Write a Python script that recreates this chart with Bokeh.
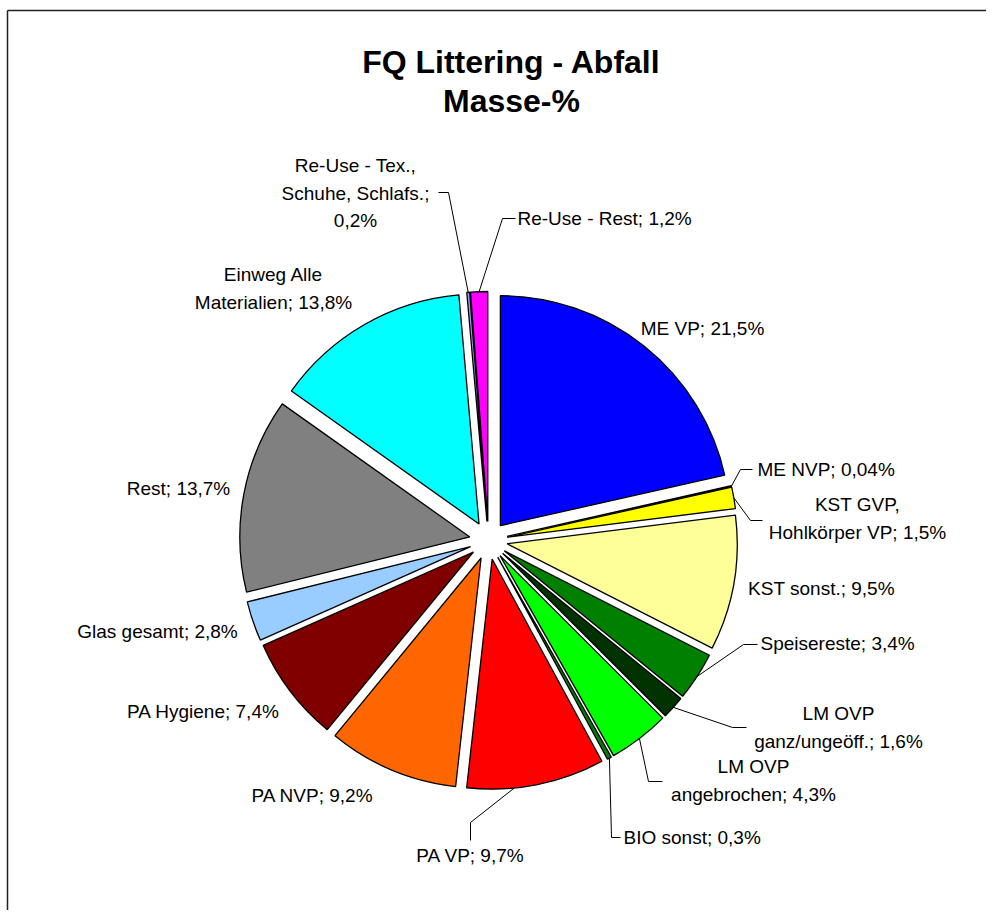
import math
from bokeh.plotting import figure
from bokeh.models import Range1d
from bokeh.core.properties import value
from bokeh.embed import file_html
from bokeh.resources import INLINE

# ---------------- data ----------------
categories = [
    "ME VP", "ME NVP", "KST GVP,\nHohlkörper VP", "KST sonst.", "Speisereste",
    "LM OVP\nganz/ungeöff.", "LM OVP\nangebrochen", "BIO sonst", "PA VP", "PA NVP",
    "PA Hygiene", "Glas gesamt", "Rest", "Einweg Alle\nMaterialien",
    "Re-Use - Tex.,\nSchuhe, Schlafs.", "Re-Use - Rest",
]
values = [21.5, 0.04, 1.5, 9.5, 3.4, 1.6, 4.3, 0.3, 9.7, 9.2, 7.4, 2.8, 13.7, 13.8, 0.2, 1.2]
colors = [
    "#0000FF", "#000080", "#FFFF00", "#FFFF99", "#008000", "#003300", "#00FF00", "#008000",
    "#FF0000", "#FF6600", "#800000", "#99CCFF", "#808080", "#00FFFF", "#9999FF", "#FF00FF",
]
title_lines = ["FQ Littering - Abfall", "Masse-%"]

# ---------------- layout (screenshot pixel coordinates) ----------------
W, H = 986, 910
def X(px):
    return px
def Y(py):
    return H - py

CX, CY = 488, 540      # pie centre
R = 230                # radius
EXPLODE = 19           # explosion offset
LINE_H = 27.5

label_layout = [
    dict(x=702, y=328, align="center", leader=None),
    dict(x=757, y=469, align="left", leader=[(740, 469), (752, 469)]),
    dict(x=857, y=504, align="center", leader=[(750, 520), (762, 520)]),
    dict(x=821, y=588, align="center", leader=None),
    dict(x=760, y=643, align="left", leader=[(743, 644), (757, 644)]),
    dict(x=838, y=713, align="center", leader=[(732, 727), (746, 727)]),
    dict(x=753, y=766, align="center", leader=[(648, 781), (662, 781)]),
    dict(x=623, y=837, align="left", leader=[(611, 837), (620, 837)]),
    dict(x=470, y=855, align="center", leader=[(470, 822), (470, 840)], frac=0.66),
    dict(x=312, y=795, align="center", leader=None),
    dict(x=203, y=711, align="center", leader=None),
    dict(x=157, y=631, align="center", leader=None),
    dict(x=178, y=488, align="center", leader=None),
    dict(x=273, y=274, align="center", leader=None),
    dict(x=355, y=165, align="center", leader=[(448, 192), (438, 192)], own_line=True),
    dict(x=517, y=218, align="left", leader=[(502, 218), (515, 218)]),
]

FONT = value("Liberation Sans")

p = figure(width=W, height=H, x_range=Range1d(0, W), y_range=Range1d(0, H),
           output_backend="svg", toolbar_location=None, min_border=0)
p.axis.visible = False
p.grid.visible = False
p.outline_line_color = None
p.background_fill_color = "white"

# frame lines (top and left) of the chart area
p.line([X(7), X(1000)], [Y(10), Y(10)], line_color="#222222", line_width=1.5)
p.line([X(7), X(7)], [Y(10), Y(1000)], line_color="#222222", line_width=1.5)

total = sum(values)
cum = 0.0
wx, wy, sa, ea, fc = [], [], [], [], []
anchors = []
for i, v in enumerate(values):
    c0 = cum / total
    c1 = (cum + v) / total
    cum += v
    mid = (c0 + c1) / 2
    ang = 2 * math.pi * mid
    ox = CX + EXPLODE * math.sin(ang)
    oy = CY - EXPLODE * math.cos(ang)
    wx.append(X(ox)); wy.append(Y(oy))
    sa.append(math.pi / 2 - 2 * math.pi * c1)
    ea.append(math.pi / 2 - 2 * math.pi * c0)
    fc.append(colors[i])
    frac = label_layout[i].get("frac", 0.5)
    aa = 2 * math.pi * (c0 + (c1 - c0) * frac)
    anchors.append((ox + R * math.sin(aa), oy - R * math.cos(aa)))

p.wedge(x=wx, y=wy, radius=R, start_angle=sa, end_angle=ea, direction="anticlock",
        fill_color=fc, line_color="black", line_width=1.3)

for i, lay in enumerate(label_layout):
    if lay["leader"]:
        pts = [anchors[i]] + lay["leader"]
        p.line([X(a) for a, b in pts], [Y(b) for a, b in pts], line_color="black", line_width=1)

for i, lay in enumerate(label_layout):
    val = str(values[i]).replace(".", ",") + "%"
    if lay.get("own_line"):
        txt = categories[i] + ";\n" + val
    else:
        txt = categories[i] + "; " + val
    lines = txt.split("\n")
    ys = [Y(lay["y"] + k * LINE_H) for k in range(len(lines))]
    xs = [X(lay["x"])] * len(lines)
    p.text(x=xs, y=ys, text=lines, text_font=FONT, text_font_size="19px",
           text_align=lay["align"], text_baseline="middle", text_color="black")

p.text(x=[X(511), X(511)], y=[Y(61), Y(100)], text=title_lines, text_font=FONT,
       text_font_size="32px", text_font_style="bold", text_align="center",
       text_baseline="middle", text_color="black")

open("out.html", "w").write(file_html(p, INLINE))
